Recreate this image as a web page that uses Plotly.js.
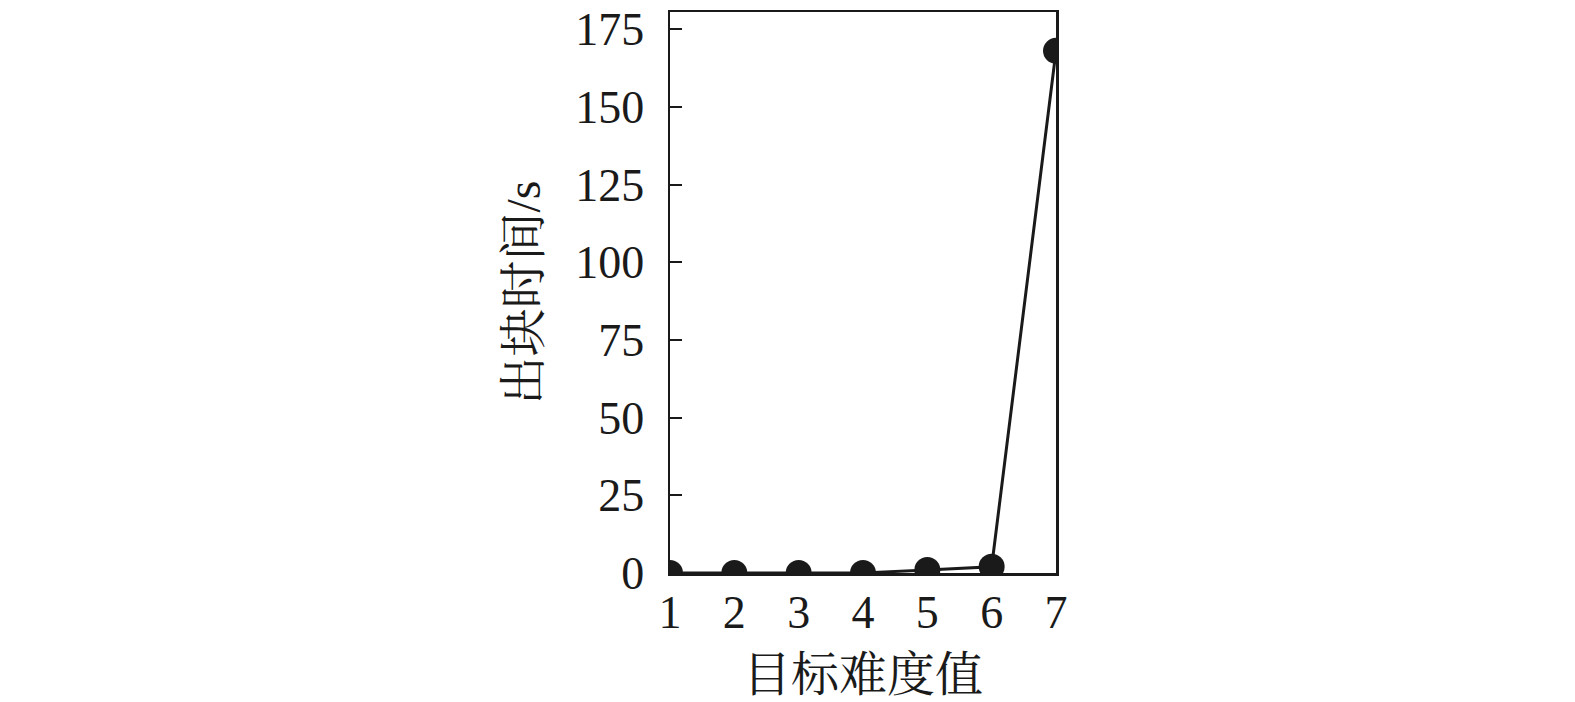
<!DOCTYPE html>
<html>
<head>
<meta charset="utf-8">
<script src="https://cdn.plot.ly/plotly-3.0.1.min.js"></script>
<style>html,body{margin:0;padding:0;background:#fff;}#chart{width:1575px;height:702px;}</style>
</head>
<body>
<div id="chart"></div>
<script>
const difficulty = [1, 2, 3, 4, 5, 6, 7];
const blockTime = [0, 0, 0, 0, 1.0, 2.0, 168];
const xTickVals = [1, 2, 3, 4, 5, 6, 7];
const yTickVals = [0, 25, 50, 75, 100, 125, 150, 175];
const xTitle = '目标难度值';
const yTitle = '出块时间/s';

const fontFam = '"Liberation Serif", "Times New Roman", "Noto Serif CJK SC", "Noto Sans CJK SC", serif';
const ink = '#1a1a1a';

const trace = {
  x: difficulty,
  y: blockTime,
  type: 'scatter',
  mode: 'lines+markers',
  line: {color: ink, width: 3},
  marker: {color: ink, size: 26, symbol: 'circle'},
  cliponaxis: true,
  hoverinfo: 'x+y'
};

const layout = {
  width: 1575,
  height: 702,
  paper_bgcolor: '#fff',
  plot_bgcolor: '#fff',
  showlegend: false,
  margin: {l: 670, r: 519, t: 12, b: 128.5, pad: 0},
  font: {family: fontFam, color: ink, size: 46},
  xaxis: {
    range: [1, 7],
    tickvals: xTickVals,
    ticks: 'inside',
    ticklen: 11,
    tickwidth: 2,
    tickcolor: ink,
    showline: true,
    linecolor: ink,
    linewidth: 2.5,
    mirror: true,
    showgrid: false,
    zeroline: false,
    ticklabelstandoff: -3,
    tickfont: {family: fontFam, size: 46, color: ink},
    title: {text: xTitle, font: {family: fontFam, size: 48, color: ink}, standoff: 21}
  },
  yaxis: {
    range: [0, 180.5],
    tickvals: yTickVals,
    ticks: 'inside',
    ticklen: 12,
    tickwidth: 2,
    tickcolor: ink,
    showline: true,
    linecolor: ink,
    linewidth: 2.5,
    mirror: true,
    showgrid: false,
    zeroline: false,
    ticklabelstandoff: 14,
    tickfont: {family: fontFam, size: 46, color: ink},
    title: {text: yTitle, font: {family: fontFam, size: 48, color: ink}, standoff: 20}
  }
};

Plotly.newPlot('chart', [trace], layout, {displayModeBar: false, staticPlot: true});
</script>
</body>
</html>
